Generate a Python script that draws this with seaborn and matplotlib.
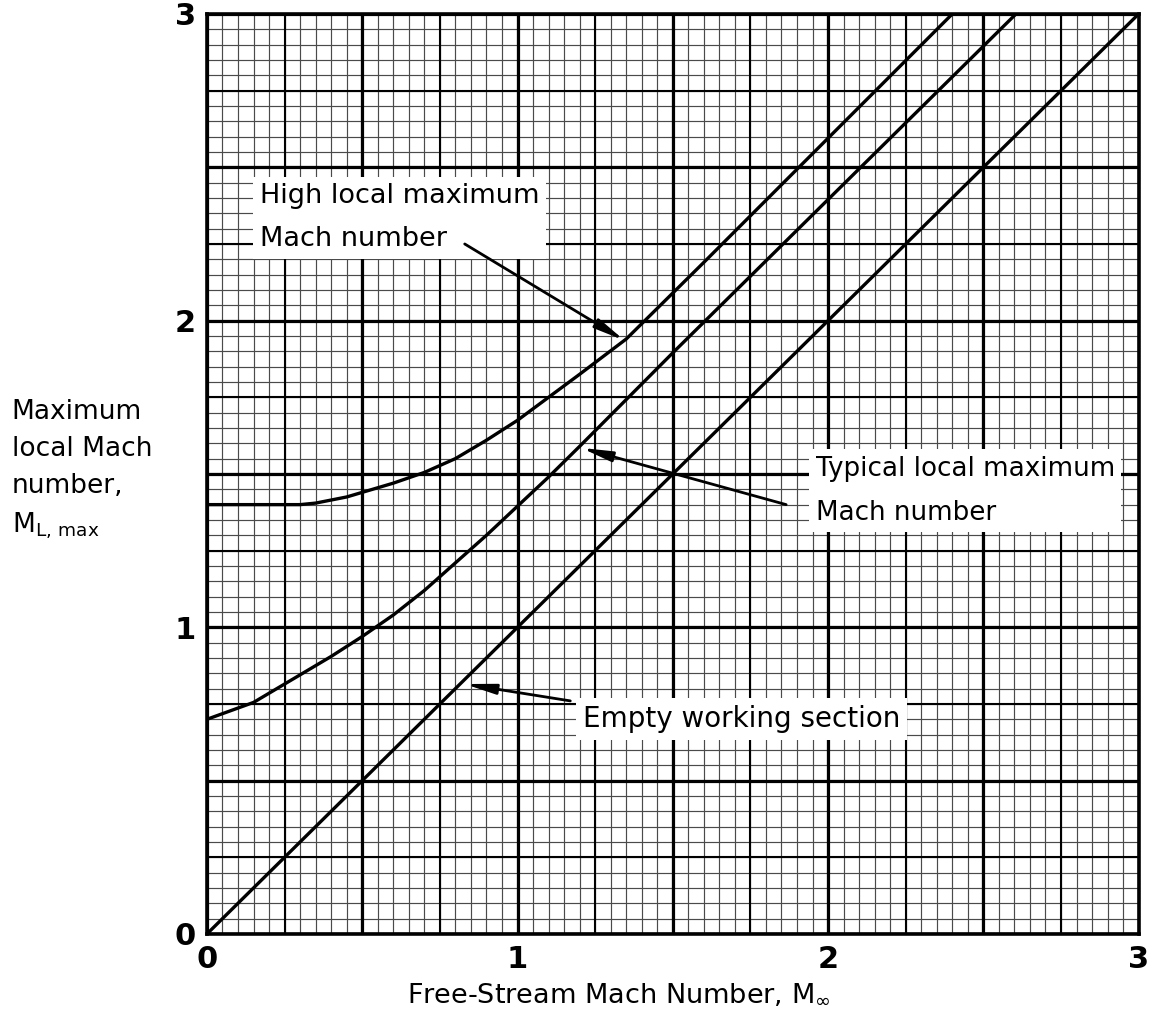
import numpy as np
import pandas as pd
import seaborn as sns
import matplotlib.pyplot as plt

# Free-stream Mach number vs. maximum local Mach number
empty_x = [0.0, 3.0]
empty_y = [0.0, 3.0]

typical_x = [0.0, 0.15, 0.30, 0.40, 0.50, 0.60, 0.70, 0.80, 0.90, 1.00, 1.10, 1.20, 1.50, 2.00, 2.605]
typical_y = [0.70, 0.755, 0.845, 0.905, 0.97, 1.04, 1.12, 1.21, 1.30, 1.395, 1.49, 1.59, 1.895, 2.395, 3.0]

high_x = [0.0, 0.15, 0.30, 0.35, 0.40, 0.45, 0.50, 0.60, 0.70, 0.80, 0.90, 1.00, 1.10, 1.20, 1.35, 1.60, 2.00, 2.40]
high_y = [1.40, 1.40, 1.40, 1.405, 1.415, 1.425, 1.44, 1.47, 1.505, 1.55, 1.61, 1.675, 1.75, 1.825, 1.94, 2.19, 2.595, 3.0]

tick_vals = [0, 1, 2, 3]
tick_labels = ["0", "1", "2", "3"]

frames = []
for name, xs, ys in [("empty", empty_x, empty_y),
                     ("typical", typical_x, typical_y),
                     ("high", high_x, high_y)]:
    frames.append(pd.DataFrame({"M_inf": xs, "M_L": ys, "case": name}))
df = pd.concat(frames, ignore_index=True)

sns.set_theme(style="white")
plt.rcParams["font.family"] = ["DejaVu Sans"]
plt.rcParams["text.color"] = "black"
plt.rcParams["xtick.color"] = "black"
plt.rcParams["ytick.color"] = "black"
plt.rcParams["axes.labelcolor"] = "black"

fig = plt.figure(figsize=(11.56, 10.26), dpi=100)
ax = fig.add_axes([0.1790, 0.0897, 0.8060, 0.8967])

# graph-paper grid: fine, quarter and half-unit rulings
fine = np.arange(0, 3.0001, 0.05)
quarter = np.arange(0, 3.0001, 0.25)
half = np.arange(0, 3.0001, 0.5)
for v in fine:
    ax.axvline(v, color="#4a4a4a", lw=0.85, zorder=0)
    ax.axhline(v, color="#4a4a4a", lw=0.85, zorder=0)
for v in quarter:
    ax.axvline(v, color="black", lw=1.5, zorder=0.5)
    ax.axhline(v, color="black", lw=1.5, zorder=0.5)
for v in half:
    ax.axvline(v, color="black", lw=2.3, zorder=0.6)
    ax.axhline(v, color="black", lw=2.3, zorder=0.6)

sns.lineplot(data=df, x="M_inf", y="M_L", hue="case", units="case",
             estimator=None, sort=False, palette=["black"] * 3,
             lw=2.4, legend=False, ax=ax, zorder=3)

ax.set_xlim(0, 3)
ax.set_ylim(0, 3)
ax.set_xticks(tick_vals)
ax.set_yticks(tick_vals)
ax.set_xticklabels(tick_labels, fontsize=22, fontweight="bold")
ax.set_yticklabels(tick_labels, fontsize=22, fontweight="bold")
ax.tick_params(axis="both", length=0, pad=8)
for s in ax.spines.values():
    s.set_color("black")
    s.set_linewidth(2.6)
    s.set_zorder(4)

ax.set_xlabel(r"Free-Stream Mach Number, $\mathregular{M_{\infty}}$",
              fontsize=19.5)
ax.xaxis.set_label_coords(0.442, -0.052)
ax.set_ylabel("")

fig.text(0.010, 0.542,
         "Maximum\nlocal Mach\nnumber,\n" + r"$\mathregular{M_{L,\,max}}$",
         fontsize=19, ha="left", va="center", linespacing=1.55)

box = dict(boxstyle="square,pad=0.25", fc="white", ec="none")
arrow = dict(arrowstyle="-|>,head_length=1.5,head_width=0.25",
             color="black", lw=2.0, shrinkA=0, shrinkB=0)

ax.annotate("", xy=(1.345, 1.935), xytext=(0.83, 2.25),
            arrowprops=arrow, zorder=5)
ax.text(0.17, 2.335, "High local maximum\nMach number", fontsize=19.5,
        ha="left", va="center", linespacing=1.85, bbox=box, zorder=4)

ax.annotate("", xy=(1.205, 1.585), xytext=(1.865, 1.40),
            arrowprops=arrow, zorder=5)
ax.text(1.96, 1.445, "Typical local maximum\nMach number", fontsize=18.8,
        ha="left", va="center", linespacing=1.9, bbox=box, zorder=4)

ax.annotate("", xy=(0.83, 0.815), xytext=(1.17, 0.76),
            arrowprops=arrow, zorder=5)
ax.text(1.21, 0.70, "Empty working section", fontsize=20,
        ha="left", va="center", bbox=box, zorder=4)

fig.savefig("out.png", dpi=100, facecolor="white")
